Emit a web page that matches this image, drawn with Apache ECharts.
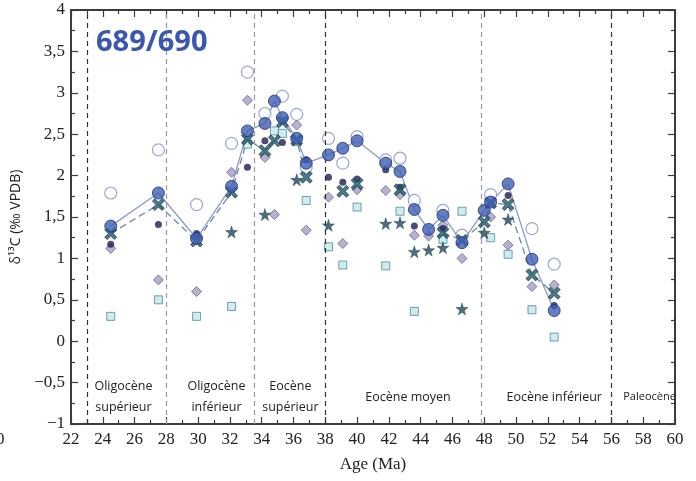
<!DOCTYPE html>
<html><head><meta charset="utf-8">
<script src="https://cdn.jsdelivr.net/npm/echarts@6/dist/echarts.min.js"></script>
<style>html,body{margin:0;padding:0;background:#fff}#c{width:696px;height:481px}</style>
</head><body><div id="c"></div>
<script>
// Sample ages (Ma)
const ages = [24.5,27.5,29.9,32.1,33.1,34.2,34.8,35.3,36.2,36.8,38.2,39.1,40.0,41.8,42.7,43.6,44.5,45.4,46.6,48.0,48.4,49.5,51.0,52.4];
// δ13C values per marker type (null = no measurement)
const filledCircle = [1.39,1.79,1.24,1.87,2.54,2.63,2.90,2.70,2.45,2.15,2.25,2.33,2.42,2.15,2.05,1.59,1.35,1.52,1.19,1.58,1.68,1.90,0.99,0.37];
const openCircle   = [1.79,2.31,1.65,2.39,3.25,2.75,null,2.96,2.74,2.10,2.45,2.15,2.47,2.19,2.21,1.70,null,1.58,1.28,null,1.77,null,1.36,0.93];
const smallDot     = [1.17,1.41,1.30,null,2.10,2.42,null,2.40,null,2.19,1.98,1.92,1.96,2.07,1.86,1.39,null,1.36,null,null,null,1.76,null,0.43];
const diamond      = [1.12,0.74,0.60,2.04,2.91,2.22,1.53,null,2.61,1.34,1.74,1.18,1.83,1.82,1.77,1.28,1.27,1.40,1.00,null,1.50,1.16,0.66,0.68];
const square       = [0.30,0.50,0.30,0.42,2.38,null,2.54,2.51,2.41,1.70,1.14,0.92,1.62,0.91,1.57,0.36,null,1.23,1.57,null,1.25,1.05,0.38,0.05];
const star         = [null,null,null,1.32,null,1.53,null,null,1.95,null,1.40,null,null,1.42,1.43,1.08,1.10,1.13,0.39,1.31,null,1.47,null,null];
const cross        = [1.30,1.65,1.21,1.80,2.44,2.30,2.42,2.65,2.43,1.98,null,1.81,1.90,null,1.83,null,null,1.31,1.22,1.44,1.67,1.65,0.80,0.58];
// Age ranges over which the cross series is joined by a dashed line
const crossSegments = [[24.5,36.8],[45.4,52.4]];
// Epoch boundaries and labels
const boundaries = [23, 28, 33.5, 38, 47.8, 56];
const boundaryDark = [true, false, false, true, false, true];
const periods = [
  {name:'Oligocène\nsupérieur', age:25.3},
  {name:'Oligocène\ninférieur', age:31.15},
  {name:'Eocène\nsupérieur', age:35.8},
  {name:'Eocène moyen', age:43.2},
  {name:'Eocène inférieur', age:52.4},
  {name:'Paleocène', age:58.4, small:true}
];
const xTicks = {min:22, max:60, interval:2};
const yTicks = {min:-1, max:4, interval:0.5};

function pairs(vals){ return ages.map((a,i)=>vals[i]==null?null:[a,vals[i]]).filter(p=>p); }
function crossLine(){
  const out=[];
  crossSegments.forEach((s,k)=>{
    if(k>0) out.push(['-','-']);
    ages.forEach((a,i)=>{ if(cross[i]!=null && a>=s[0] && a<=s[1]) out.push([a,cross[i]]); });
  });
  return out;
}
const starPath = 'path://M50,0 L61,35 L98,35 L68,57 L79,91 L50,70 L21,91 L32,57 L2,35 L39,35 Z';
const crossPath = 'path://M2,0 L5,3 L8,0 L10,2 L7,5 L10,8 L8,10 L5,7 L2,10 L0,8 L3,5 L0,2 Z';
const serif = '"Liberation Serif","DejaVu Serif",serif';
const sans = '"Open Sans","Noto Sans",sans-serif';
const yFmt = v => (v<0?'−':'') + String(Math.abs(v)).replace('.', ',');
const axisCol = '#3c3c3c';

function xAx(pos, labels){
  return {type:'value', position:pos, min:xTicks.min, max:xTicks.max, interval:xTicks.interval,
    axisLine:{show:true,onZero:false,lineStyle:{color:axisCol,width:2}},
    axisTick:{show:true,inside:true,length:7,lineStyle:{color:axisCol,width:1.2}},
    minorTick:{show:true,splitNumber:2,length:4,lineStyle:{color:axisCol,width:1.2}},
    splitLine:{show:false},
    axisLabel:{show:labels,fontFamily:serif,fontSize:17,color:'#222',margin:7},
    name: labels?'Age (Ma)':'', nameLocation:'middle', nameGap:32,
    nameTextStyle:{fontFamily:serif,fontSize:17,color:'#222'}};
}
function yAx(pos, labels){
  return {type:'value', position:pos, min:yTicks.min, max:yTicks.max, interval:yTicks.interval,
    axisLine:{show:true,onZero:false,lineStyle:{color:axisCol,width:2}},
    axisTick:{show:true,inside:true,length:7,lineStyle:{color:axisCol,width:1.2}},
    minorTick:{show:true,splitNumber:2,length:4,lineStyle:{color:axisCol,width:1.2}},
    splitLine:{show:false},
    axisLabel:{show:labels,fontFamily:serif,fontSize:17,color:'#222',margin:6,formatter:yFmt},
    name: labels?'δ¹³C (‰ VPDB)':'', nameLocation:'middle', nameGap:35, nameRotate:90,
    nameTextStyle:{fontFamily:sans,fontSize:14,color:'#222'}};
}

const chart = echarts.init(document.getElementById('c'), null, {renderer:'canvas'});
chart.setOption({
  animation:false,
  backgroundColor:'#fff',
  grid:{left:71,right:21,top:10,bottom:57,containLabel:false},
  xAxis:[xAx('bottom',true), xAx('top',false)],
  yAxis:[yAx('left',true), yAx('right',false)],
  series:[
    {type:'line', data:pairs(filledCircle), showSymbol:false, symbol:'none', z:2,
      lineStyle:{color:'#8b9bc9',width:1.3},
      markLine:{silent:true, symbol:'none', label:{show:false},
        data: boundaries.map((b,i)=>({xAxis:b, lineStyle:{color:boundaryDark[i]?'#333':'#9a9a9a', type:[5,4], width:1.2}}))}},
    {type:'line', data:crossLine(), showSymbol:false, symbol:'none', connectNulls:false, z:2,
      lineStyle:{color:'#6f88a6',width:1.3,type:[7,4]}},
    {type:'scatter', data:pairs(openCircle), symbol:'circle', symbolSize:12, z:3,
      itemStyle:{color:'#fff',borderColor:'#8292c8',borderWidth:1.2}},
    {type:'scatter', data:pairs(square), symbol:'rect', symbolSize:8, z:4,
      itemStyle:{color:'#c6e7ea',borderColor:'#4c8c98',borderWidth:1}},
    {type:'scatter', data:pairs(diamond), symbol:'diamond', symbolSize:[10,10], z:4,
      itemStyle:{color:'#a49dc6',borderColor:'#6b668f',borderWidth:1}},
    {type:'scatter', data:pairs(star), symbol:starPath, symbolSize:12, z:5,
      itemStyle:{color:'#1d4a5c',borderColor:'#10303c',borderWidth:0.5}},
    {type:'scatter', data:pairs(smallDot), symbol:'circle', symbolSize:7, z:5,
      itemStyle:{color:'#1d1d52'}},
    {type:'scatter', data:pairs(cross), symbol:crossPath, symbolSize:12, z:6,
      itemStyle:{color:'#1f5a6a',borderColor:'#0f2c38',borderWidth:0.8}},
    {type:'scatter', data:pairs(filledCircle), symbol:'circle', symbolSize:12, z:7,
      itemStyle:{color:'#3f5fb5',borderColor:'#22336f',borderWidth:1}}
  ]
});

const g = [
  {type:'text', left:96, top:28, z:100, style:{text:'689/690', fill:'#3b56b1', font:'bold 29px "Open Sans", sans-serif'}},
  {type:'text', left:-4, top:431, z:100, style:{text:'0', fill:'#222', font:'17px "Liberation Serif", serif'}}
];
periods.forEach(p=>{
  const x = chart.convertToPixel({xAxisIndex:0}, p.age);
  g.push({type:'text', x:x, y:397, z:100, style:{text:p.name, fill:'#222', align:'center', verticalAlign:'middle',
    lineHeight:21, font:(p.small?'11px':'12.5px')+' "Open Sans", sans-serif'}});
});
chart.setOption({graphic:g});
</script>
</body></html>
